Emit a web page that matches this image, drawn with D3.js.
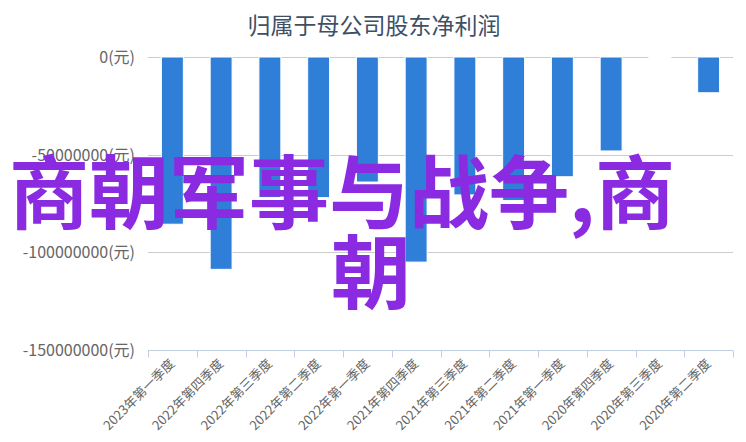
<!DOCTYPE html>
<html>
<head>
<meta charset="utf-8">
<script src="https://cdn.jsdelivr.net/npm/d3@7"></script>
<style>
  html, body { margin: 0; padding: 0; background: #fff; }
  svg { display: block; }
</style>
</head>
<body>
<svg id="chart" width="746" height="442"></svg>
<script>
// Quarter labels, left to right
const quarters = [
  "2023年第一季度", "2022年第四季度", "2022年第三季度", "2022年第二季度",
  "2022年第一季度", "2021年第四季度", "2021年第三季度", "2021年第二季度",
  "2021年第一季度", "2020年第四季度", "2020年第三季度", "2020年第二季度"
];

// Net profit attributable to parent company shareholders (元)
const netProfit = [
  -85600000, -108700000, -72000000, -72000000,
  -64000000, -105000000, -70600000, -73500000,
  -61300000, -48100000, -100000, -18300000
];

const yTicks = [0, -50000000, -100000000, -150000000];

const titleText = "归属于母公司股东净利润";
const overlayLines = ["商朝军事与战争,商", "朝"];

const width = 746;
const height = 442;
const margin = { top: 57, right: 13, bottom: 92, left: 148 };
const font = "'Noto Sans CJK SC', 'Noto Sans', sans-serif";

const svg = d3.select("#chart");

// Scales
const x = d3
  .scaleBand()
  .domain(quarters)
  .range([margin.left, width - margin.right])
  .paddingInner(0.55)
  .paddingOuter(0.275);

const xTicks = d3
  .scaleBand()
  .domain(quarters)
  .range([margin.left, width - margin.right]);

const y = d3
  .scaleLinear()
  .domain([-150000000, 0])
  .range([height - margin.bottom, margin.top]);

// Title
svg
  .append("text")
  .attr("x", 374)
  .attr("y", 34)
  .attr("text-anchor", "middle")
  .attr("font-family", font)
  .attr("font-size", 23)
  .attr("fill", "#3e4f66")
  .text(titleText);

// Gridlines (skip the bottom one, the x axis sits there)
svg
  .append("g")
  .selectAll("line")
  .data(yTicks.filter((d) => d !== -150000000))
  .join("line")
  .attr("x1", margin.left)
  .attr("x2", width - margin.right)
  .attr("y1", (d) => Math.round(y(d)) + 0.5)
  .attr("y2", (d) => Math.round(y(d)) + 0.5)
  .attr("stroke", "#cccccc")
  .attr("stroke-width", 1);

// Y labels
svg
  .append("g")
  .selectAll("text")
  .data(yTicks)
  .join("text")
  .attr("x", 135)
  .attr("y", (d) => y(d) + 6)
  .attr("text-anchor", "end")
  .attr("font-family", font)
  .attr("font-size", 16)
  .attr("fill", "#666666")
  .text((d) => `${d}(元)`);

// Bars
svg
  .append("g")
  .selectAll("rect")
  .data(netProfit)
  .join("rect")
  .attr("x", (d, i) => x(quarters[i]))
  .attr("y", y(0))
  .attr("width", x.bandwidth())
  .attr("height", (d) => Math.max(0.5, y(d) - y(0)))
  .attr("fill", "#2f7ed8")
  .attr("stroke", "#ffffff")
  .attr("stroke-width", 1);

// X axis line with ticks at band edges
const axisY = Math.round(y(-150000000)) + 0.5;
const xAxis = svg.append("g");
xAxis
  .append("line")
  .attr("x1", margin.left)
  .attr("x2", width - margin.right)
  .attr("y1", axisY)
  .attr("y2", axisY)
  .attr("stroke", "#c0d0e0");

const edges = quarters.map((q) => xTicks(q)).concat([width - margin.right]);
xAxis
  .selectAll(".tick")
  .data(edges)
  .join("line")
  .attr("class", "tick")
  .attr("x1", (d) => Math.round(d) + 0.5)
  .attr("x2", (d) => Math.round(d) + 0.5)
  .attr("y1", axisY)
  .attr("y2", axisY + 7)
  .attr("stroke", "#c0d0e0");

// Rotated category labels
xAxis
  .selectAll(".label")
  .data(quarters)
  .join("text")
  .attr("class", "label")
  .attr("transform", (d) => `translate(${xTicks(d) + xTicks.bandwidth() / 2 + 3}, ${axisY + 14}) rotate(-45)`)
  .attr("text-anchor", "end")
  .attr("font-family", font)
  .attr("font-size", 13)
  .attr("fill", "#666666")
  .text((d) => d);

// Overlay caption
const overlay = svg.append("g");
overlay
  .append("text")
  .attr("x", 9)
  .attr("y", 222)
  .attr("font-family", font)
  .attr("font-weight", "bold")
  .attr("font-size", 80)
  .attr("fill", "#8a2be2")
  .text(overlayLines[0]);
overlay
  .append("text")
  .attr("x", 331)
  .attr("y", 302)
  .attr("font-family", font)
  .attr("font-weight", "bold")
  .attr("font-size", 80)
  .attr("fill", "#8a2be2")
  .text(overlayLines[1]);
</script>
</body>
</html>
